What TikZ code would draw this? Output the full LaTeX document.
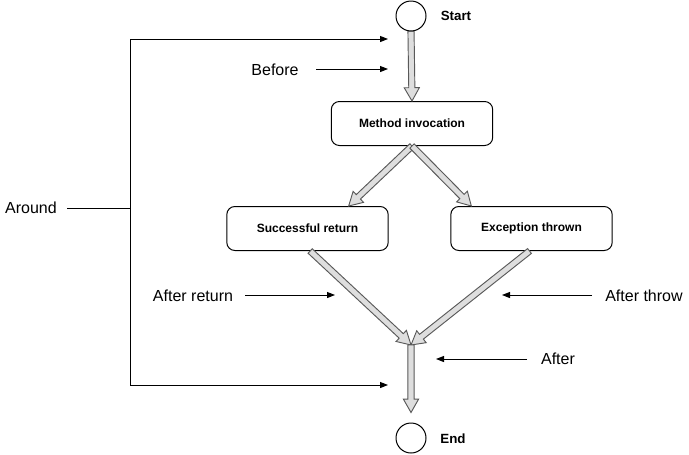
\documentclass[tikz,border=0pt]{standalone}
\usepackage{fontspec}
\setmainfont{Liberation Sans}
\usetikzlibrary{calc,arrows.meta}
\newcommand{\fatarrow}[2]{%
  \coordinate (fa-s) at (#1);
  \coordinate (fa-e) at (#2);
  \coordinate (fa-h) at ($(fa-e)!10pt!(fa-s)$);
  \draw[fatstyle] ($(fa-s)!2.3pt!90:(fa-e)$) -- ($(fa-h)!2.3pt!90:(fa-e)$) -- ($(fa-h)!5.7pt!90:(fa-e)$) -- (fa-e) -- ($(fa-h)!5.7pt!-90:(fa-e)$) -- ($(fa-h)!2.3pt!-90:(fa-e)$) -- ($(fa-s)!2.3pt!-90:(fa-e)$) -- cycle;
}
\begin{document}
\begin{tikzpicture}[x=0.75pt,y=-0.75pt,
  box/.style={draw, rounded corners=6pt, line width=0.75pt, minimum width=121pt, minimum height=33pt, inner sep=0pt, font=\bfseries\fontsize{9}{11}\selectfont},
  endpoint/.style={draw, circle, minimum size=22.5pt, inner sep=0pt, line width=0.75pt},
  lbl/.style={font=\fontsize{12}{14}\selectfont, inner sep=0pt},
  blbl/.style={font=\bfseries\fontsize{10}{12}\selectfont, inner sep=0pt},
  fatstyle/.style={draw=black!65, fill=black!13, line width=0.7pt, line join=miter},
  thinarrow/.style={line width=0.75pt, -{Triangle[length=6pt,width=4.5pt]}},
  thinline/.style={line width=0.75pt}]
\useasboundingbox (0,0) rectangle (689,454);

% main flow
\node[endpoint] (start) at (411,16) {};
\node[blbl] (startlbl) at (456,16) {Start};
\node[box] (method) at (412,123.5) {Method invocation};
\node[box] (succ) at (307.5,228.5) {Successful return};
\node[box] (exc) at (531.5,228.5) {Exception thrown};
\node[endpoint] (end) at (411,438) {};
\node[blbl] (endlbl) at (453,439) {End};
\coordinate (merge) at (411,345);

\fatarrow{start.south}{method.north}
\fatarrow{method.south}{[xshift=-30pt]succ.north east}
\fatarrow{method.south}{[xshift=15.75pt]exc.north west}
\fatarrow{[xshift=2pt]succ.south}{merge}
\fatarrow{[xshift=-1.5pt]exc.south}{merge}
\fatarrow{merge}{[yshift=7.5pt]end.north}

% labels
\node[lbl] (around) at (31,208) {Around};
\node[lbl] (before) at (275,70) {Before};
\node[lbl] (afterret) at (193,296) {After return};
\node[lbl] (afterthrow) at (644,296) {After throw};
\node[lbl] (after) at (558,359) {After};

% bracket
\coordinate (aroundA) at (67,208);
\coordinate (brM) at (130,208);
\coordinate (brT) at (130,39);
\coordinate (brB) at (130,385);
\coordinate (brTend) at (388,39);
\coordinate (brBend) at (388,385);
\draw[thinline] (aroundA) -- (brM);
\draw[thinline] (brB) -- (brT);
\draw[thinarrow] (brT) -- (brTend);
\draw[thinarrow] (brB) -- (brBend);

% pointer arrows
\coordinate (beforeA) at (316,69);
\coordinate (beforeB) at (388,69);
\draw[thinarrow] (beforeA) -- (beforeB);
\coordinate (afterretA) at (245,295);
\coordinate (afterretB) at (335,295);
\draw[thinarrow] (afterretA) -- (afterretB);
\coordinate (afterthrowA) at (592,295);
\coordinate (afterthrowB) at (502,295);
\draw[thinarrow] (afterthrowA) -- (afterthrowB);
\coordinate (afterA) at (527,359);
\coordinate (afterB) at (436,359);
\draw[thinarrow] (afterA) -- (afterB);
\end{tikzpicture}
\end{document}
